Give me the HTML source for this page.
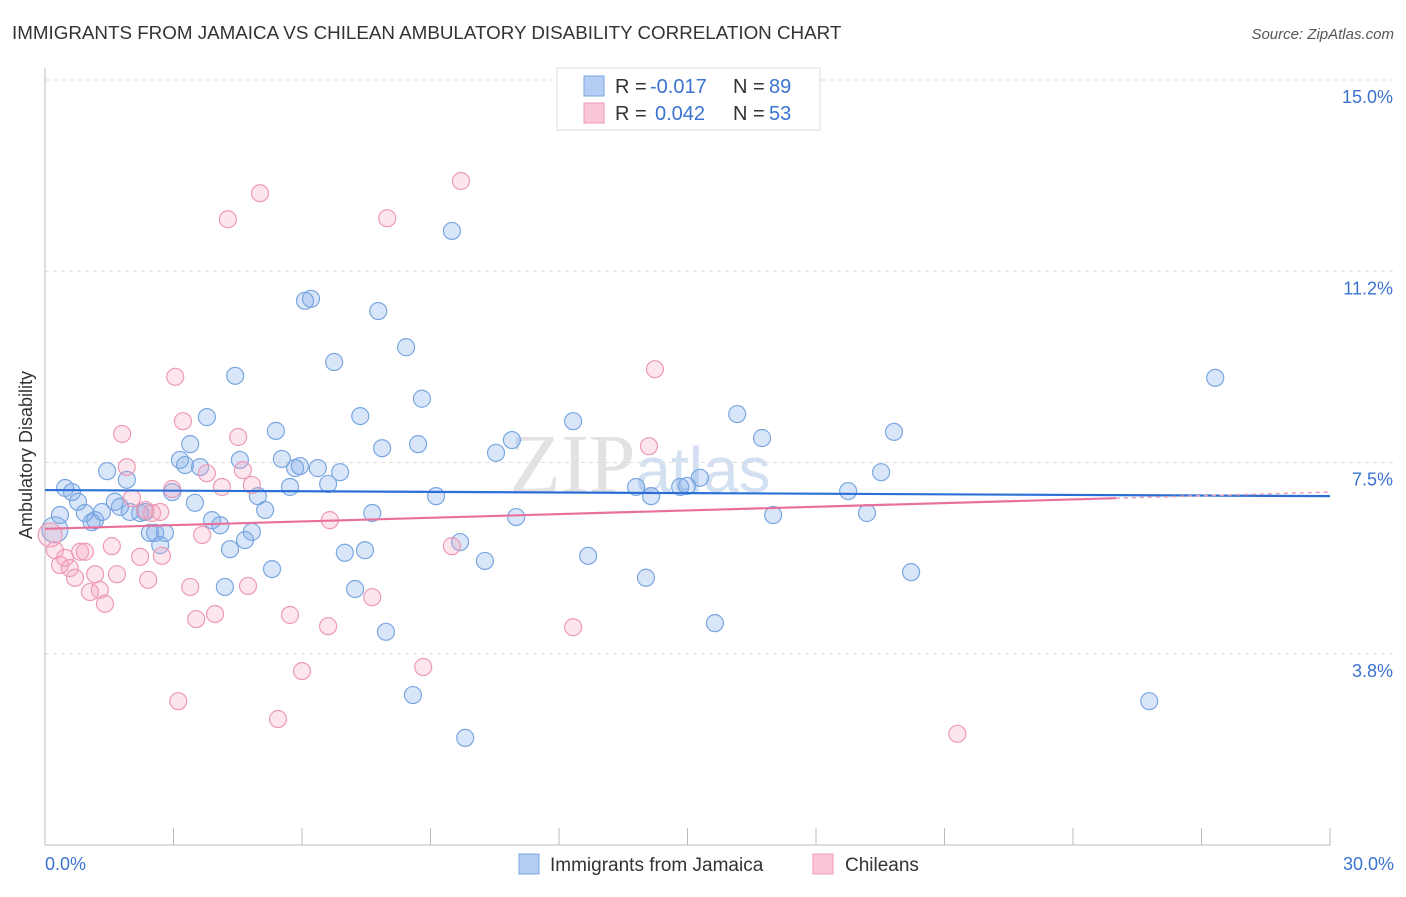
<!DOCTYPE html>
<html><head><meta charset="utf-8"><style>
body{margin:0;background:#fff;font-family:"Liberation Sans",sans-serif;}
</style></head><body>
<svg id="chart" width="1406" height="892" xmlns="http://www.w3.org/2000/svg">
<text x="12" y="39" font-size="18.8" fill="#333">IMMIGRANTS FROM JAMAICA VS CHILEAN AMBULATORY DISABILITY CORRELATION CHART</text>
<text x="1394" y="39" font-size="15" fill="#555" font-style="italic" text-anchor="end">Source: ZipAtlas.com</text>
<text x="32" y="455" font-size="18" fill="#333" text-anchor="middle" transform="rotate(-90 32 455)">Ambulatory Disability</text>
<text x="640" y="492" font-size="84" fill="#e2e2e2" font-family="Liberation Serif" text-anchor="middle">ZIP<tspan fill="#d3e0f2" font-family="Liberation Sans" font-size="64">atlas</tspan></text>
<g id="grid"></g><g id="pts"></g><g id="trend"></g>
<g>
<rect x="557" y="68" width="263" height="62" fill="#fff" stroke="#ddd"/>
<rect x="584" y="76" width="20" height="20" fill="#b5cdf3" stroke="#7aa7e0"/>
<rect x="584" y="103" width="20" height="20" fill="#f9c7d6" stroke="#ee9ab5"/>
<text x="615" y="93" font-size="20" fill="#333">R =</text>
<text x="650" y="93" font-size="20" fill="#3b73d1">-0.017</text>
<text x="733" y="93" font-size="20" fill="#333">N =</text>
<text x="769" y="93" font-size="20" fill="#3b73d1">89</text>
<text x="615" y="120" font-size="20" fill="#333">R =</text>
<text x="655" y="120" font-size="20" fill="#3b73d1">0.042</text>
<text x="733" y="120" font-size="20" fill="#333">N =</text>
<text x="769" y="120" font-size="20" fill="#3b73d1">53</text>
</g>
<g>
<rect x="519" y="854" width="20" height="20" fill="#b5cdf3" stroke="#7aa7e0"/>
<text x="550" y="871" font-size="19" fill="#333">Immigrants from Jamaica</text>
<rect x="813" y="854" width="20" height="20" fill="#f9c7d6" stroke="#ee9ab5"/>
<text x="845" y="871" font-size="19" fill="#333">Chileans</text>
</g>
</svg>
<script>
const yTicks=[3.75,7.5,11.25,15];
const yTickLabels=["3.8%","7.5%","11.2%","15.0%"];
const xTicks=[0,3,6,9,12,15,18,21,24,27,30];
const blueX=[0.23,0.35,0.47,0.63,0.77,0.93,1.09,1.17,1.33,1.45,1.63,1.75,1.91,1.98,2.22,2.34,2.45,2.57,2.69,2.80,2.97,3.15,3.27,3.39,3.50,3.62,3.78,3.90,4.09,4.32,4.20,4.44,4.55,4.67,4.83,4.97,5.14,5.30,5.39,5.53,5.72,5.84,5.95,6.07,6.21,6.37,6.61,6.75,6.89,7.00,7.24,7.36,7.47,7.64,7.78,7.87,7.96,8.43,8.59,8.71,8.80,9.13,9.50,9.69,9.81,10.27,10.53,10.90,11.00,12.33,12.68,13.80,14.03,14.15,14.83,14.99,15.29,15.64,16.16,16.74,17.00,18.75,19.19,19.52,19.82,20.22,25.78,27.32];
const blueY=[6.18,6.47,7.00,6.92,6.73,6.51,6.33,6.37,6.53,7.33,6.73,6.63,7.16,6.53,6.51,6.53,6.12,6.12,5.88,6.12,6.92,7.55,7.45,7.86,6.71,7.41,8.39,6.37,6.27,5.80,5.06,9.20,7.55,5.98,6.14,6.84,6.57,5.41,8.12,7.57,7.02,7.39,7.43,10.67,10.71,7.39,7.08,9.47,7.31,5.73,5.02,8.41,5.78,6.51,10.47,7.78,4.18,9.76,2.94,7.86,8.75,6.84,12.04,5.94,2.10,5.57,7.69,7.94,6.43,8.31,5.67,7.02,5.24,6.84,7.02,7.04,7.20,4.35,8.45,7.98,6.47,6.94,6.51,7.31,8.10,5.35,2.82,9.16];
const pinkX=[0.12,0.23,0.35,0.47,0.58,0.70,0.82,0.93,1.05,1.17,1.28,1.40,1.56,1.68,1.80,1.91,2.03,2.22,2.34,2.41,2.50,2.69,2.73,2.97,3.04,3.11,3.22,3.39,3.53,3.67,3.78,3.97,4.13,4.27,4.51,4.62,4.74,4.83,5.02,5.44,5.72,6.00,6.61,6.65,7.64,7.99,8.83,9.50,9.71,12.33,14.10,14.24,21.30];
const pinkY=[6.08,5.78,5.49,5.63,5.43,5.24,5.75,5.75,4.96,5.31,5.00,4.73,5.86,5.31,8.06,7.41,6.80,5.65,6.57,5.20,6.51,6.53,5.67,6.98,9.18,2.82,8.31,5.06,4.43,6.08,7.29,4.53,7.02,12.27,8.00,7.35,5.08,7.06,12.78,2.47,4.51,3.41,4.29,6.37,4.86,12.29,3.49,5.86,13.02,4.27,7.82,9.33,2.18];
const blueTrend=[6.96,6.84];
const pinkTrend=[6.20,6.80];
const pinkSolidEnd=25;
const NS="http://www.w3.org/2000/svg";
const sx=v=>45+v/30*1285, sy=v=>845-v/15*765;
function mk(tag,attrs,parent){const e=document.createElementNS(NS,tag);for(const k in attrs)e.setAttribute(k,attrs[k]);parent.appendChild(e);return e;}
const grid=document.getElementById('grid');
yTicks.forEach((t,i)=>{
 const l=mk('line',{x1:45,x2:1395,y1:sy(t),y2:sy(t),stroke:'#ddd','stroke-dasharray':'4,4'},grid);
 
 
 const tx=mk('text',{x:1393,y:sy(t)+23,'font-size':18,fill:'#3b73d1','text-anchor':'end'},grid);
 tx.textContent=yTickLabels[i];
 
 
});
const ax=mk('line',{x1:45,x2:45,y1:68,y2:845,stroke:'#bbb'},grid);


const bx=mk('line',{x1:45,x2:1330,y1:845,y2:845,stroke:'#bbb'},grid);


xTicks.forEach(t=>{const l=mk('line',{x1:sx(t),x2:sx(t),y1:828,y2:845,stroke:'#bbb'},grid);
 
 });
[[0,'0.0%','start',45],[30,'30.0%','end',1394]].forEach(a=>{const t=mk('text',{x:a[3],y:870,'font-size':18,fill:'#3b73d1','text-anchor':a[2]},grid);t.textContent=a[1];
 
 });
const pts=document.getElementById('pts');
blueX.forEach((x,i)=>{const c=mk('circle',{cx:sx(x),cy:sy(blueY[i]),r:i==0?13:8.5,fill:'rgba(120,165,235,0.28)',stroke:'#7aa7e0','stroke-width':1.2},pts);
 
 });
pinkX.forEach((x,i)=>{const c=mk('circle',{cx:sx(x),cy:sy(pinkY[i]),r:i==0?12:8.5,fill:'rgba(245,160,190,0.28)',stroke:'#ee9ab5','stroke-width':1.2},pts);
 
 });
const tr=document.getElementById('trend');
const b=mk('line',{x1:sx(0),y1:sy(blueTrend[0]),x2:sx(30),y2:sy(blueTrend[1]),stroke:'#2b6fd6','stroke-width':2.2},tr);


const pAt=x=>pinkTrend[0]+(pinkTrend[1]-pinkTrend[0])*x/pinkSolidEnd;
const p=mk('line',{x1:sx(0),y1:sy(pAt(0)),x2:sx(pinkSolidEnd),y2:sy(pAt(pinkSolidEnd)),stroke:'#e8709a','stroke-width':2.2},tr);


const pd=mk('line',{x1:sx(pinkSolidEnd),y1:sy(pAt(pinkSolidEnd)),x2:sx(30),y2:sy(pAt(30)),stroke:'#e8a0b8','stroke-width':1.5,'stroke-dasharray':'4,4'},tr);


</script>
</body></html>
